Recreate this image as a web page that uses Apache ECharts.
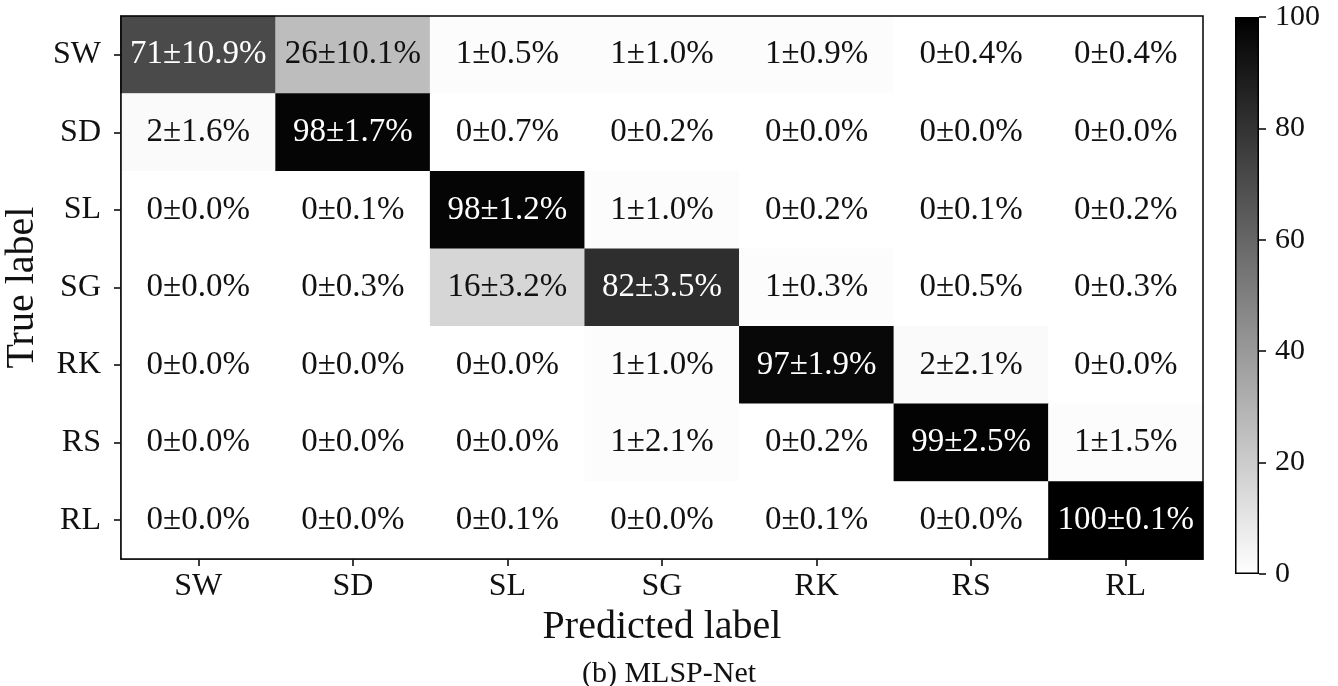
<!DOCTYPE html>
<html>
<head>
<meta charset="utf-8">
<script src="https://cdn.jsdelivr.net/npm/echarts@6/dist/echarts.min.js"></script>
<style>
  html, body { margin: 0; padding: 0; background: #fff; }
  #chart { width: 1338px; height: 686px; }
</style>
</head>
<body>
<div id="chart"></div>
<script>
// Class names, in the same order for true (rows) and predicted (columns)
const classes = ['SW', 'SD', 'SL', 'SG', 'RK', 'RS', 'RL'];

// Mean accuracy (%) per true-label row
const meanSW = [71, 26, 1, 1, 1, 0, 0];
const meanSD = [2, 98, 0, 0, 0, 0, 0];
const meanSL = [0, 0, 98, 1, 0, 0, 0];
const meanSG = [0, 0, 16, 82, 1, 0, 0];
const meanRK = [0, 0, 0, 1, 97, 2, 0];
const meanRS = [0, 0, 0, 1, 0, 99, 1];
const meanRL = [0, 0, 0, 0, 0, 0, 100];

// Standard deviation (%) per true-label row
const stdSW = [10.9, 10.1, 0.5, 1.0, 0.9, 0.4, 0.4];
const stdSD = [1.6, 1.7, 0.7, 0.2, 0.0, 0.0, 0.0];
const stdSL = [0.0, 0.1, 1.2, 1.0, 0.2, 0.1, 0.2];
const stdSG = [0.0, 0.3, 3.2, 3.5, 0.3, 0.5, 0.3];
const stdRK = [0.0, 0.0, 0.0, 1.0, 1.9, 2.1, 0.0];
const stdRS = [0.0, 0.0, 0.0, 2.1, 0.2, 2.5, 1.5];
const stdRL = [0.0, 0.0, 0.1, 0.0, 0.1, 0.0, 0.1];

// Colour-bar tick values
const colorbarTicks = [0, 20, 40, 60, 80, 100];

const meanRows = [meanSW, meanSD, meanSL, meanSG, meanRK, meanRS, meanRL];
const stdRows = [stdSW, stdSD, stdSL, stdSG, stdRK, stdRS, stdRL];

const FONT = "'Liberation Serif', 'DejaVu Serif', serif";
const INK = '#111';

// One heatmap cell per (true, predicted) pair; light text on dark cells
const cells = [];
meanRows.forEach((row, r) => {
  row.forEach((v, c) => {
    cells.push({
      value: [c, r, v, stdRows[r][c]],
      label: { color: v > 50 ? '#ffffff' : INK }
    });
  });
});

const chart = echarts.init(document.getElementById('chart'), null, { renderer: 'canvas' });

chart.setOption({
  backgroundColor: '#fff',
  animation: false,
  title: {
    text: '(b) MLSP-Net',
    left: 'center',
    top: 654,
    textStyle: { fontFamily: FONT, fontSize: 30, fontWeight: 'normal', color: INK }
  },
  grid: [
    { left: 121, top: 16, width: 1082, height: 543, show: true, containLabel: false,
      outerBoundsMode: 'none',
      borderColor: '#000', borderWidth: 1.5, backgroundColor: 'transparent', z: 10 },
    { left: 1235, top: 17, width: 24, height: 557, containLabel: false, outerBoundsMode: 'none' }
  ],
  xAxis: [
    {
      type: 'category', gridIndex: 0, data: classes, position: 'bottom',
      name: 'Predicted label', nameLocation: 'middle', nameGap: 48,
      nameTextStyle: { fontFamily: FONT, fontSize: 40, color: INK, lineHeight: 40 },
      axisLine: { show: true, lineStyle: { color: '#000', width: 1.5 } },
      axisTick: { show: true, alignWithLabel: true, length: 7, lineStyle: { color: '#000', width: 1.5 } },
      axisLabel: { fontFamily: FONT, fontSize: 32, color: INK, margin: 12 },
      splitLine: { show: false }
    },
    {
      type: 'category', gridIndex: 1, data: ['bar'],
      axisLine: { show: false }, axisTick: { show: false }, axisLabel: { show: false }
    }
  ],
  yAxis: [
    {
      type: 'category', gridIndex: 0, data: classes, inverse: true,
      name: 'True label', nameLocation: 'middle', nameGap: 76, nameRotate: 90,
      nameTextStyle: { fontFamily: FONT, fontSize: 40, color: INK, lineHeight: 40 },
      axisLine: { show: true, lineStyle: { color: '#000', width: 1.5 } },
      axisTick: { show: true, alignWithLabel: true, length: 7, lineStyle: { color: '#000', width: 1.5 } },
      axisLabel: { fontFamily: FONT, fontSize: 32, color: INK, margin: 20 },
      splitLine: { show: false }
    },
    {
      type: 'value', gridIndex: 1, position: 'right', min: 0, max: 100, interval: 20,
      axisLine: { show: false },
      axisTick: { show: true, length: 7, lineStyle: { color: '#000', width: 1.5 } },
      axisLabel: {
        fontFamily: FONT, fontSize: 30, color: INK, margin: 16,
        formatter: v => (colorbarTicks.includes(v) ? String(v) : '')
      },
      splitLine: { show: false }
    }
  ],
  visualMap: {
    show: false, type: 'continuous', min: 0, max: 100, dimension: 2, seriesIndex: 0,
    inRange: { color: ['#ffffff', '#000000'] }
  },
  series: [
    {
      type: 'heatmap', xAxisIndex: 0, yAxisIndex: 0, data: cells,
      itemStyle: { borderWidth: 0 },
      label: {
        show: true, fontFamily: FONT, fontSize: 33,
        formatter: p => p.value[2] + '±' + p.value[3].toFixed(1) + '%'
      }
    },
    {
      type: 'bar', xAxisIndex: 1, yAxisIndex: 1, data: [100], barWidth: '100%',
      silent: true,
      itemStyle: {
        color: new echarts.graphic.LinearGradient(0, 0, 0, 1, [
          { offset: 0, color: '#000000' },
          { offset: 1, color: '#ffffff' }
        ]),
        borderColor: '#000', borderWidth: 1.5
      }
    }
  ]
});
</script>
</body>
</html>
